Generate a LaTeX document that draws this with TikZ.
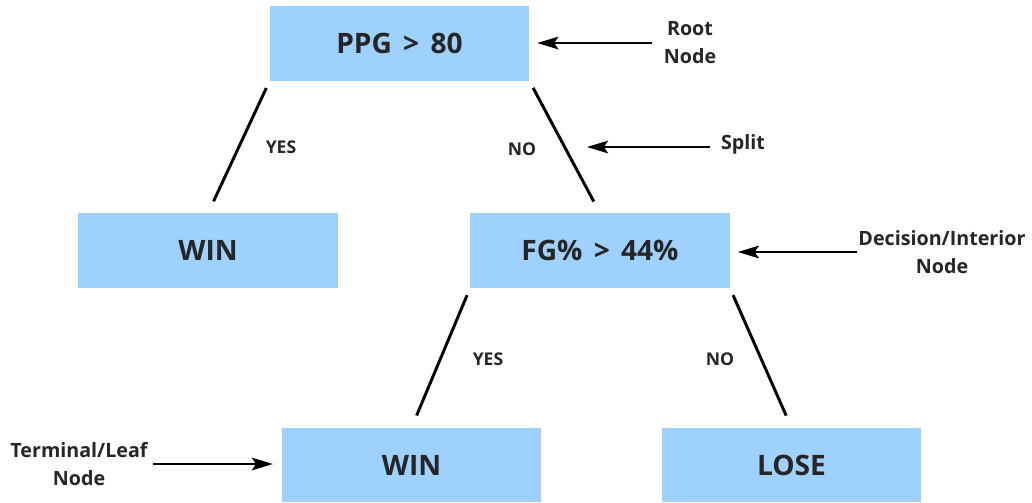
\documentclass[tikz,border=0pt]{standalone}
\usepackage{fontspec}
\setmainfont{Open Sans}
\usepackage{xcolor}
\usetikzlibrary{arrows.meta,calc}
\definecolor{boxblue}{HTML}{9FD1FF}
\newcommand{\gap}{\hspace{0.4em}}

\begin{document}
\begin{tikzpicture}[
    x=0.025cm, y=-0.025cm, >=Latex, text=black!85,
    tnode/.style  ={fill=boxblue, minimum width=6.475cm, minimum height=1.85cm, inner sep=0pt, font=\fontsize{20}{24}\selectfont\bfseries},
    branch/.style ={line width=2.1pt, shorten <=0.2cm, shorten >=0.33cm},
    choice/.style ={font=\fontsize{12.5}{15}\selectfont\bfseries},
    note/.style   ={align=center, inner sep=1pt, font=\fontsize{14}{20}\selectfont\bfseries},
    pointer/.style={-{Stealth[length=15pt, width=9pt, inset=3pt]}, line width=1.4pt}
]
\useasboundingbox (0,0) rectangle (1032,502);

% --- Tree nodes ---
\node[tnode] (root) at (399.5, 43.5) {PPG\gap>\gap80};
\node[tnode] (win1) at (208, 250.5) {WIN};
\node[tnode] (fg)   at (600, 250.5) {FG\%\gap>\gap44\%};
\node[tnode] (win2) at (411.5, 465) {WIN};
\node[tnode] (lose) at (791.5, 465) {LOSE};

% --- Branches ---
\draw[branch] (root.south west) -- (win1.north);
\draw[branch] (root.south east) -- (fg.north);
\draw[branch] (fg.south west) -- (win2.north);
\draw[branch] (fg.south east) -- (lose.north);

\node[choice] (yes1) at (281, 147) {YES};
\node[choice] (no1)  at (522, 149) {NO};
\node[choice] (yes2) at (488, 359) {YES};
\node[choice] (no2)  at (720, 359) {NO};

% --- Annotations ---
\node[note] (rootlbl)  at (690, 43)  {Root\\Node};
\node[note] (splitlbl) at (743, 144) {Split};
\node[note] (declbl)   at (942, 252) {Decision/Interior\\Node};
\node[note] (termlbl)  at (79, 464)  {Terminal/Leaf\\Node};
\coordinate (splitpt) at (587, 147);

\draw[pointer, shorten <=0.25cm, shorten >=0.2cm] (rootlbl.west) -- (root.east |- rootlbl.west);
\draw[pointer] (splitlbl.west) ++(-9,3) -- (splitpt);
\draw[pointer, shorten >=0.2cm] (declbl.west) -- (fg.east |- declbl.west);
\draw[pointer, shorten <=0.1cm, shorten >=0.22cm] (termlbl.east) -- (win2.west |- termlbl.east);

\end{tikzpicture}
\end{document}
